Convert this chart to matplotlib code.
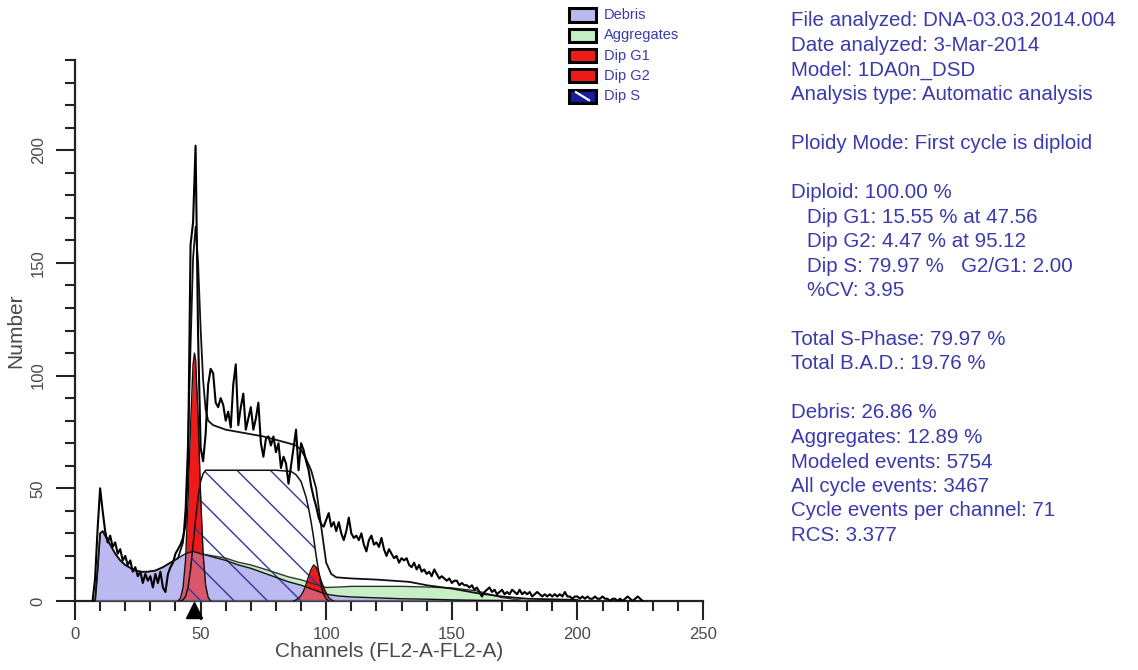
import matplotlib
matplotlib.use('Agg')
import matplotlib.pyplot as plt
import numpy as np
from matplotlib.patches import Rectangle
from matplotlib.lines import Line2D
from matplotlib.ticker import MultipleLocator

plt.rcParams['font.family'] = ['Liberation Sans', 'DejaVu Sans']
plt.rcParams['hatch.linewidth'] = 1.0

# raw histogram, one count per channel starting at channel 7
first_channel = 7
counts = [0, 10, 32, 50, 40, 31, 26, 29, 24, 26, 21, 23, 18, 20, 16, 18, 13, 15, 11, 13,
          8, 12, 9, 11, 6, 12, 8, 13, 6, 4, 12, 15, 17, 21, 23, 25, 28, 34, 62, 158,
          168, 202, 118, 68, 62, 74, 96, 103, 101, 88, 86, 90, 87, 80, 84, 77, 96, 105, 78, 86,
          92, 76, 81, 86, 76, 81, 88, 70, 64, 72, 73, 69, 73, 66, 70, 59, 64, 61, 52, 60,
          68, 76, 58, 70, 67, 62, 58, 51, 46, 42, 37, 34, 33, 36, 39, 33, 35, 31, 35, 30,
          27, 31, 37, 30, 28, 29, 27, 30, 25, 22, 27, 29, 25, 26, 24, 28, 23, 20, 23, 21,
          19, 20, 17, 19, 18, 19, 16, 15, 17, 14, 16, 13, 14, 12, 13, 11, 14, 12, 10, 11,
          10, 9, 10, 8, 9, 9, 7, 8, 7, 7, 6, 7, 5, 6, 4, 2, 4, 5, 6, 4,
          5, 3, 4, 5, 3, 4, 3, 5, 4, 3, 5, 3, 4, 3, 4, 2, 3, 4, 3, 2,
          3, 2, 3, 2, 3, 2, 3, 2, 4, 2, 2, 1, 2, 2, 1, 2, 1, 2, 1, 1,
          2, 1, 1, 2, 1, 1, 0, 1, 1, 0, 1, 0, 1, 2, 1, 0, 1, 2, 1, 0]

# model components
deb_ch = [8, 9, 10, 11, 12, 14, 16, 18, 20, 23, 26, 29, 32, 35, 38, 41, 44, 47, 50, 55,
          60, 65, 70, 75, 80, 85, 90, 95, 100, 105, 110, 120, 130, 140, 150, 160, 170, 180]
debris = [0, 14, 30, 31, 29, 25, 21, 18, 16, 14, 13, 13, 13.5, 15, 17, 19, 21, 22, 21, 19.5,
          18, 16, 14.5, 12.5, 10.5, 8.5, 7, 5, 3, 2.2, 1.8, 1.4, 1, 0.8, 0.5, 0.3, 0.2, 0]
aggregates = [0, 0, 0, 0, 0, 0, 0, 0, 0, 0, 0, 0, 0, 0, 0, 0, 0, 0, 0, 0.5,
              1, 1.2, 1.5, 1.8, 2, 2.2, 2.4, 2.6, 3, 4, 4.7, 5.1, 5.5, 5.4, 5.3, 4.2, 1.3, 0]

g1_ch = [41, 42, 43, 44, 45, 46, 47, 47.56, 48, 49, 50, 51, 52, 53, 54]
g1 = [0, 1.4, 5.8, 18, 44, 78, 105, 110, 107, 82, 47, 21, 7, 1.6, 0]

g2_ch = [87, 88, 89, 90, 91, 92, 93, 94, 95, 96, 97, 98, 99, 100, 101, 102, 103]
g2 = [0, 0.5, 1.2, 2.5, 4.5, 7.5, 11, 14, 16, 15, 12.5, 9, 6, 3.5, 1.5, 0.5, 0]

s_ch = [42, 43, 44, 45, 46, 47, 48, 49, 50, 51, 52, 55, 60, 70, 80, 86, 88, 90, 92, 93,
        94, 95, 96, 97, 98, 99, 100, 101]
s_phase = [0, 0.5, 2, 6, 14, 25, 36, 46, 53, 56.5, 58, 58, 58, 58, 58, 57.5, 56, 53, 46, 41,
           35, 28, 20, 13, 7, 3, 1, 0]

model_ch = [8, 9, 10, 11, 12, 14, 16, 18, 20, 23, 26, 29, 32, 35, 38, 41, 43, 44, 45, 46,
            47, 48, 49, 50, 51, 52, 53, 55, 60, 65, 70, 75, 80, 85, 88, 90, 92, 94, 96, 98,
            100, 102, 104, 110, 120, 133, 140, 150, 160, 170, 180, 200]
model = [0, 14, 30, 31, 29, 25, 21, 18, 16, 14, 13, 13, 13.5, 15, 17, 19, 26, 41, 71, 113,
         152, 166, 150, 121, 98, 85, 80, 78, 76, 75, 74, 73, 71.5, 70, 69, 67, 63, 58, 50, 33,
         17, 12, 10.5, 10, 9.5, 8.5, 7, 5.5, 3.5, 2, 1, 0.5]

g1_mean = 47.56

legend_labels = ['Debris', 'Aggregates', 'Dip G1', 'Dip G2', 'Dip S']
legend_colors = ['#babaf0', '#c6efc6', '#ee1a1a', '#ee1a1a', '#1a1aa0']

stats_lines = [
    ('File analyzed: DNA-03.03.2014.004', 0),
    ('Date analyzed: 3-Mar-2014', 0),
    ('Model: 1DA0n_DSD', 0),
    ('Analysis type: Automatic analysis', 0),
    ('', 0),
    ('Ploidy Mode: First cycle is diploid', 0),
    ('', 0),
    ('Diploid: 100.00 %', 0),
    ('Dip G1: 15.55 % at 47.56', 1),
    ('Dip G2: 4.47 % at 95.12', 1),
    ('Dip S: 79.97 %   G2/G1: 2.00', 1),
    ('%CV: 3.95', 1),
    ('', 0),
    ('Total S-Phase: 79.97 %', 0),
    ('Total B.A.D.: 19.76 %', 0),
    ('', 0),
    ('Debris: 26.86 %', 0),
    ('Aggregates: 12.89 %', 0),
    ('Modeled events: 5754', 0),
    ('All cycle events: 3467', 0),
    ('Cycle events per channel: 71', 0),
    ('RCS: 3.377', 0),
]

W, H = 1138, 670
text_blue = '#3a3aae'
axis_col = '#222222'
label_col = '#4a4a4a'


def fx(px):
    return px / W


def fy(py):
    return 1 - py / H


fig = plt.figure(figsize=(W / 100, H / 100), dpi=100)
ax = fig.add_axes([fx(75), fy(601), (703 - 75) / W, (601 - 60) / H])

channels = np.arange(first_channel, first_channel + len(counts))
deb = np.array(debris)
agg_top = deb + np.array(aggregates)

# fills
ax.fill_between(deb_ch, 0, deb, color=legend_colors[0], lw=0, zorder=1)
ax.fill_between(deb_ch, deb, agg_top, where=agg_top > deb, color=legend_colors[1], lw=0, zorder=1)
ax.fill_between(g1_ch, 0, g1, color=legend_colors[2], lw=0, zorder=2)
ax.fill_between(g2_ch, 0, g2, color=legend_colors[3], lw=0, zorder=2)
ax.fill_between(deb_ch, 0, deb, color=legend_colors[0], alpha=0.38, lw=0, zorder=3)
ax.fill_between(s_ch, 0, s_phase, facecolor='none', edgecolor='#3434a0', hatch='\\', lw=0, zorder=4)

# outlines
ax.plot(deb_ch, deb, color='#111111', lw=1.0, zorder=5)
ax.plot(deb_ch[18:], agg_top[18:], color='#333333', lw=1.0, zorder=5)
ax.plot(s_ch, s_phase, color='#111111', lw=1.1, zorder=5)
ax.plot(g1_ch, g1, color='#111111', lw=1.0, zorder=5)
ax.plot(g2_ch, g2, color='#111111', lw=1.0, zorder=5)
ax.plot(model_ch, model, color='#111111', lw=1.3, zorder=6)
ax.plot(channels, counts, color='#000000', lw=1.5, zorder=7)

# G1 position marker
ax.plot([g1_mean], [-0.017], marker='^', ms=12, color='black',
        transform=ax.get_xaxis_transform(), clip_on=False, zorder=8)

ax.set_xlim(0, 250)
ax.set_ylim(0, 240)
ax.xaxis.set_major_locator(MultipleLocator(50))
ax.xaxis.set_minor_locator(MultipleLocator(10))
ax.yaxis.set_major_locator(MultipleLocator(50))
ax.yaxis.set_minor_locator(MultipleLocator(10))
ax.set_yticks([0, 50, 100, 150, 200])
for s in ['top', 'right']:
    ax.spines[s].set_visible(False)
for s in ['left', 'bottom']:
    ax.spines[s].set_linewidth(1.6)
    ax.spines[s].set_color(axis_col)
ax.tick_params(which='major', length=14, width=1.5, color=axis_col, labelsize=12,
               labelcolor=label_col)
ax.tick_params(which='minor', length=7, width=1.5, color=axis_col)
ax.tick_params(axis='x', pad=5)
ax.tick_params(axis='y', pad=7)
for lbl in ax.get_yticklabels():
    lbl.set_rotation(90)
    lbl.set_va('center')

ax.set_xlabel('Channels (FL2-A-FL2-A)', fontsize=15, color=label_col, labelpad=0)
ax.set_ylabel('Number', fontsize=15, color=label_col, labelpad=4)

# legend boxes
for i, (lab, col) in enumerate(zip(legend_labels, legend_colors)):
    yc = 15 + 20.3 * i
    rect = Rectangle((fx(569), fy(yc + 6.5)), 27 / W, 13 / H, transform=fig.transFigure,
                     facecolor=col, edgecolor='black', lw=2.2)
    fig.add_artist(rect)
    if lab == 'Dip S':
        fig.add_artist(Line2D([fx(576), fx(589)], [fy(yc - 4), fy(yc + 4)],
                              transform=fig.transFigure, color='white', lw=1.6))
    fig.text(fx(604), fy(yc), lab, color=text_blue, fontsize=10.5, va='center', ha='left')

# analysis summary
for i, (line, indent) in enumerate(stats_lines):
    if line:
        fig.text(fx(791 + 16 * indent), fy(21 + 24.5 * i), line, color=text_blue,
                 fontsize=14.8, va='center', ha='left')

fig.savefig('out.png', dpi=100)
